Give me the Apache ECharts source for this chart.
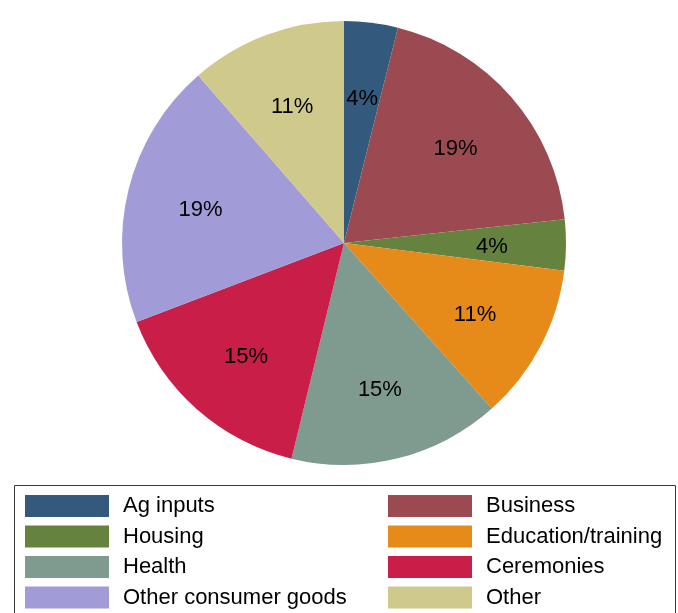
<!DOCTYPE html>
<html>
<head>
<meta charset="utf-8">
<style>
  html, body { margin: 0; padding: 0; background: #ffffff; }
  #chart { width: 678px; height: 613px; }
</style>
<script src="https://cdn.jsdelivr.net/npm/echarts@6/dist/echarts.min.js"></script>
</head>
<body>
<div id="chart"></div>
<script>
// Spending categories (clockwise from 12 o'clock) and their shares, in percent
const categories = ['Ag inputs', 'Business', 'Housing', 'Education/training',
                    'Health', 'Ceremonies', 'Other consumer goods', 'Other'];
const shares = [3.9, 19.4, 3.7, 11.4, 15.4, 15.4, 19.4, 11.4];
const sliceColors = ['#335a7d', '#9b4a51', '#65833f', '#e68a1a',
                     '#7f9a8e', '#c81e47', '#a19bd7', '#cfc98c'];

// Legend columns
const legendLeft = ['Ag inputs', 'Housing', 'Health', 'Other consumer goods'];
const legendRight = ['Business', 'Education/training', 'Ceremonies', 'Other'];

const FONT = "'Liberation Sans', Arial, Helvetica, sans-serif";

const pieData = categories.map((name, i) => ({
  name: name,
  value: shares[i],
  itemStyle: { color: sliceColors[i] }
}));

const labelData = categories.map((name, i) => ({ name: name, value: shares[i] }));

const legendCommon = {
  orient: 'vertical',
  top: 495,
  height: 200,
  padding: 0,
  itemWidth: 84,
  itemHeight: 22,
  itemGap: 8.5,
  icon: 'rect',
  selectedMode: false,
  itemStyle: { borderWidth: 0 },
  textStyle: {
    fontFamily: FONT,
    fontSize: 22,
    color: '#000000',
    padding: [2, 0, 0, 9]
  }
};

const chart = echarts.init(document.getElementById('chart'), null, { renderer: 'canvas' });

chart.setOption({
  backgroundColor: '#ffffff',
  animation: false,
  legend: [
    Object.assign({}, legendCommon, { left: 25, data: legendLeft }),
    Object.assign({}, legendCommon, { left: 388, data: legendRight })
  ],
  graphic: [{
    type: 'rect',
    shape: { x: 14.5, y: 485.5, width: 661, height: 160 },
    style: { fill: null, stroke: '#3a3a3a', lineWidth: 1 },
    silent: true,
    z: -1
  }],
  series: [
    {
      // filled slices
      type: 'pie',
      center: [344, 243],
      radius: [0, 222],
      startAngle: 90,
      clockwise: true,
      avoidLabelOverlap: false,
      silent: true,
      label: { show: false },
      labelLine: { show: false },
      itemStyle: { borderWidth: 0 },
      emphasis: { disabled: true },
      data: pieData
    },
    {
      // percentage labels, placed at about two thirds of the radius
      type: 'pie',
      center: [344, 243],
      radius: [68, 222],
      startAngle: 90,
      clockwise: true,
      avoidLabelOverlap: false,
      silent: true,
      itemStyle: { color: 'rgba(0,0,0,0)', borderWidth: 0 },
      label: {
        show: true,
        position: 'inside',
        offset: [0, 3],
        fontFamily: FONT,
        fontSize: 22,
        color: '#000000',
        formatter: p => Math.round(p.value) + '%'
      },
      labelLine: { show: false },
      emphasis: { disabled: true },
      data: labelData
    }
  ]
});
</script>
</body>
</html>
